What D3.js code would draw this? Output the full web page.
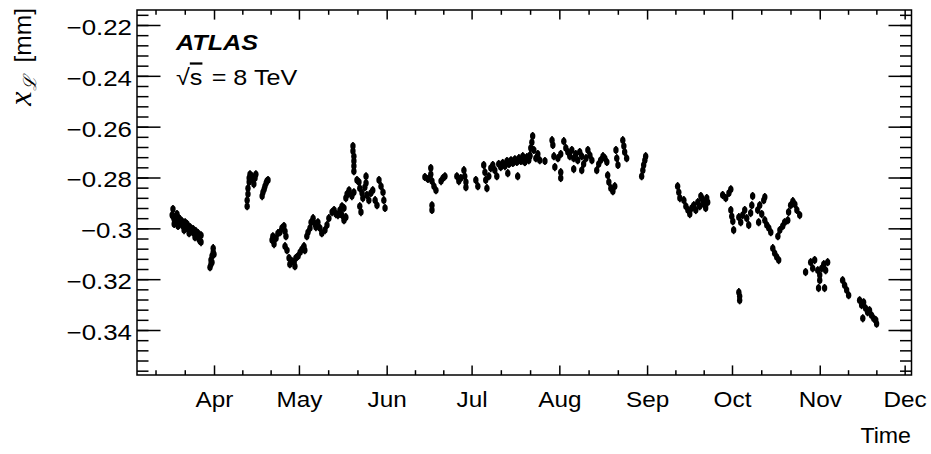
<!DOCTYPE html>
<html><head><meta charset="utf-8">
<script src="https://cdn.jsdelivr.net/npm/d3@7"></script>
<style>
body{margin:0;background:#fff}
svg{display:block}
text{font-family:"Liberation Sans",Arial,Helvetica,sans-serif;fill:#000}
</style>
</head><body>
<svg id="chart" width="931" height="454"></svg>
<script>
// ---- axis content ----
const monthLabels = ["Apr","May","Jun","Jul","Aug","Sep","Oct","Nov","Dec"];
const yTickValues = [-0.34,-0.32,-0.30,-0.28,-0.26,-0.24,-0.22];
const yTickLabels = ["\u22120.34","\u22120.32","\u22120.3","\u22120.28","\u22120.26","\u22120.24","\u22120.22"];
const yDomain = [-0.3577,-0.2141];
const dayDomain = [63.8,337.4];          // days since 2012-01-01
const errY = 0.0016;                      // vertical error bar half-length (mm)

// ---- data: [days since 2012-01-01, x_L (mm)] ----
const runMarch = [[76.5,-0.2924],[76.5,-0.2952],[76.9,-0.2964],[77.6,-0.2972],[77.9,-0.2944],[78.3,-0.2956],[78.6,-0.2976],[79.0,-0.2964],[79.4,-0.2983],[79.7,-0.2972],[80.1,-0.2991],[80.8,-0.2976],[81.1,-0.2995],[81.5,-0.2983],[81.8,-0.3003],[82.5,-0.2995],[82.9,-0.3011],[83.6,-0.3003],[83.9,-0.3019],[84.6,-0.3011],[85.0,-0.3031],[85.4,-0.3019],[85.7,-0.3043],[86.4,-0.3027],[86.1,-0.3050],
  [76.2,-0.2948],[76.9,-0.2983],[78.3,-0.2991],[80.4,-0.3007],[82.2,-0.3019],[84.3,-0.3035],[86.4,-0.3054],[77.6,-0.2952]];
const runApril = [[90.7,-0.3078],[90.7,-0.3094],[90.3,-0.3109],[89.9,-0.3125],[89.9,-0.3141],[89.6,-0.3153],[90.3,-0.3133],[91.0,-0.3102],
  [102.7,-0.2913],[102.7,-0.2889],[103.0,-0.2865],[103.0,-0.2842],[103.4,-0.2818],[103.4,-0.2802],[103.7,-0.2787],[104.4,-0.2795],[104.8,-0.2810],[105.1,-0.2826],[105.5,-0.2802],[105.8,-0.2787],
  [108.0,-0.2873],[108.3,-0.2858],[108.7,-0.2846],[109.0,-0.2834],[109.4,-0.2822],[109.7,-0.2814],[110.1,-0.2810]];
const runMay = [[111.5,-0.3046],[111.8,-0.3031],[112.2,-0.3062],[112.9,-0.3039],[113.6,-0.3019],[114.3,-0.3015],[115.0,-0.2999],[115.7,-0.2991],[116.1,-0.3011],[116.4,-0.3031],[116.1,-0.3070],[116.8,-0.3086],[117.5,-0.3117],[117.8,-0.3141],[118.5,-0.3129],[119.3,-0.3133],[119.6,-0.3149],[119.9,-0.3117],[120.7,-0.3109],[121.4,-0.3094],[122.1,-0.3082],[122.8,-0.3070],[123.1,-0.3086],
  [123.8,-0.3031],[124.2,-0.3015],[124.9,-0.2999],[125.3,-0.2976],[126.0,-0.2960],[126.7,-0.2983],[127.0,-0.2995],[127.7,-0.2976],[128.4,-0.2999],[129.1,-0.3019],[130.2,-0.3007],[130.9,-0.2987],[131.6,-0.2960],[132.7,-0.2936],[133.4,-0.2928],[134.1,-0.2944],[134.8,-0.2948],[135.5,-0.2936],[136.2,-0.2913],[136.9,-0.2920],[137.6,-0.2881],[138.3,-0.2865],[138.7,-0.2858],
  [135.5,-0.2928],[136.2,-0.2948],[136.9,-0.2968],[137.6,-0.2956],[138.0,-0.2865],[138.7,-0.2850],[139.7,-0.2873],[140.4,-0.2858],[140.1,-0.2676],[140.1,-0.2696],[140.4,-0.2716],[140.4,-0.2735],[140.4,-0.2755],[140.4,-0.2775],[141.5,-0.2810],[142.2,-0.2818],[142.5,-0.2842],[143.3,-0.2861],[143.6,-0.2881],[144.3,-0.2838],[145.0,-0.2869],[145.7,-0.2889],[146.4,-0.2861],[147.1,-0.2850],[147.9,-0.2889],[148.6,-0.2909],[149.3,-0.2810],[150.0,-0.2834],[150.7,-0.2858],[151.0,-0.2889],[151.4,-0.2920],[144.7,-0.2822],[142.5,-0.2913],[142.9,-0.2936],[144.7,-0.2795]];
const runJune = [[165.5,-0.2798],[166.6,-0.2806],[167.6,-0.2763],[167.6,-0.2787],[168.0,-0.2814],[168.7,-0.2834],[169.4,-0.2850],[168.0,-0.2909],[168.0,-0.2928],[171.2,-0.2814],[171.9,-0.2802],[172.6,-0.2795],
  [176.8,-0.2795],[177.5,-0.2814],[178.2,-0.2802],[179.3,-0.2771],[179.6,-0.2795],[180.0,-0.2818],[180.0,-0.2838]];
const runJuly = [[183.5,-0.2810],[184.2,-0.2834],[186.3,-0.2751],[186.7,-0.2779],[187.0,-0.2810],[187.4,-0.2842],[188.1,-0.2795],[188.8,-0.2763],[189.5,-0.2751],[190.2,-0.2771],[190.9,-0.2795],[191.6,-0.2747],[192.3,-0.2759],[193.0,-0.2743],[193.8,-0.2755],[194.5,-0.2735],[194.8,-0.2783],[195.2,-0.2747],[195.9,-0.2732],[196.6,-0.2743],[197.3,-0.2728],[198.0,-0.2739],[198.3,-0.2795],[198.7,-0.2724],[199.4,-0.2735],[200.1,-0.2724],[200.8,-0.2739],[201.5,-0.2720],[202.2,-0.2732],[202.6,-0.2716]];
const runAugust = [[199.4,-0.2732],[200.1,-0.2716],[200.8,-0.2739],[201.5,-0.2724],[202.6,-0.2712],[202.9,-0.2684],[203.3,-0.2661],[203.6,-0.2637],[204.0,-0.2692],[204.7,-0.2724],[205.4,-0.2708],[206.1,-0.2732],[207.9,-0.2735],[210.4,-0.2653],[210.7,-0.2672],[211.1,-0.2716],[212.5,-0.2724],[213.5,-0.2708],[213.5,-0.2779],[213.5,-0.2802],[211.4,-0.2759],[214.6,-0.2657],[215.3,-0.2684],[216.0,-0.2700],[216.7,-0.2716],[217.4,-0.2692],[218.1,-0.2724],[218.8,-0.2708],[219.5,-0.2732],[220.2,-0.2700],[220.9,-0.2716],[221.6,-0.2747],[222.4,-0.2724],[223.1,-0.2692],[223.8,-0.2712],[224.5,-0.2732],[218.1,-0.2767],[220.9,-0.2771],[226.2,-0.2771],[226.9,-0.2747],[227.6,-0.2732],[228.4,-0.2716],[229.1,-0.2724],[229.8,-0.2739],[230.1,-0.2791],[230.5,-0.2818],[231.2,-0.2842],[231.9,-0.2854],[232.6,-0.2834],[233.0,-0.2692],[233.3,-0.2724],[233.7,-0.2751],[235.4,-0.2653],[235.8,-0.2676],[236.1,-0.2700],[236.8,-0.2724],[242.1,-0.2795],[242.5,-0.2771],[242.8,-0.2751],[243.2,-0.2732],[243.5,-0.2716]];
const runSeptember = [[254.8,-0.2834],[255.2,-0.2858],[255.6,-0.2881],[257.0,-0.2889],[257.7,-0.2913],[258.4,-0.2928],[259.1,-0.2944],[259.8,-0.2920],[260.5,-0.2909],[261.2,-0.2928],[261.9,-0.2897],[262.6,-0.2913],[263.3,-0.2881],[264.0,-0.2905],[264.7,-0.2920],[265.4,-0.2897],[263.0,-0.2873],[263.7,-0.2889],[264.4,-0.2905],[265.1,-0.2881]];
const runOctober = [[270.7,-0.2869],[271.8,-0.2881],[272.9,-0.2861],[273.6,-0.2846],[273.6,-0.2928],[273.9,-0.2952],[274.3,-0.2972],[274.6,-0.3007],[276.4,-0.2956],[277.1,-0.2976],[277.8,-0.2948],[278.5,-0.2928],[279.2,-0.2960],[279.9,-0.2987],[280.6,-0.2940],[281.0,-0.2909],[281.3,-0.2873],[283.1,-0.2928],[283.8,-0.2909],[284.5,-0.2944],[285.2,-0.2889],[285.6,-0.2968],[286.3,-0.2987],[287.0,-0.2999],[287.7,-0.3015],[283.4,-0.2976],[285.6,-0.2877],[288.4,-0.3078],[289.1,-0.3098],[289.8,-0.3113],[290.5,-0.3125],[290.2,-0.3031],[290.9,-0.3007],[291.9,-0.2991],[292.6,-0.2976],[293.7,-0.2968],[294.0,-0.2936],[294.7,-0.2909],[295.5,-0.2893],[296.2,-0.2905],[296.9,-0.2928],[297.9,-0.2948],[276.4,-0.3251],[276.7,-0.3267],[276.7,-0.3283]];
const runNovember = [[300.0,-0.3172],[301.8,-0.3133],[302.5,-0.3157],[303.2,-0.3125],[304.3,-0.3165],[305.0,-0.3184],[305.7,-0.3157],[306.4,-0.3141],[307.1,-0.3165],[307.8,-0.3133],[305.0,-0.3204],[304.6,-0.3235],[306.7,-0.3235],[313.1,-0.3204],[313.8,-0.3224],[314.5,-0.3243],[315.2,-0.3263],[319.1,-0.3283],[319.8,-0.3302],[320.5,-0.3291],[321.2,-0.3314],[321.9,-0.3330],[322.6,-0.3322],[323.3,-0.3342],[324.1,-0.3355],[324.8,-0.3361],[325.1,-0.3375],[320.2,-0.3354]];

// ---- layout ----
const frame = {left:137, right:911.5, top:10, bottom:375};
const yearStart = new Date(2012,0,1);
const toDate = d => d3.timeHour.offset(yearStart, Math.round(d*24));

const svg = d3.select("#chart");
const x = d3.scaleTime().domain(dayDomain.map(toDate)).range([frame.left, frame.right]);
const y = d3.scaleLinear().domain(yDomain).range([frame.bottom, frame.top]);

const monthStarts = d3.timeMonth.range(new Date(2012,3,1), new Date(2012,11,2));
const allMonths = d3.timeMonth.range(new Date(2012,1,1), new Date(2013,0,2));
const xMinor = [];
for (let i=0;i<allMonths.length-1;i++){
  const a=+allMonths[i], b=+allMonths[i+1];
  [1,2].forEach(k=>xMinor.push(new Date(a+(b-a)*k/3)));
}
const xMinorIn = xMinor.filter(d=>x(d)>=frame.left && x(d)<=frame.right);
const yMinor = d3.range(-0.356,-0.2139,0.004).map(v=>+v.toFixed(3));

const fontSize = 22.5;
const sw = 1.5;

function widen(sel,k){
  sel.each(function(){
    const t=d3.select(this); const x0=+t.attr("x")||0;
    t.attr("transform",`translate(${x0},0) scale(${k},1) translate(${-x0},0)`);
  });
}
function styleAxis(g){
  g.select(".domain").remove();
  g.selectAll(".tick line").attr("stroke","#000").attr("stroke-width",sw);
}
// bottom
svg.append("g").attr("transform",`translate(0,${frame.bottom})`)
  .call(d3.axisBottom(x).tickValues(xMinorIn).tickSize(-4.8).tickFormat(""))
  .call(styleAxis);
svg.append("g").attr("transform",`translate(0,${frame.bottom})`)
  .call(d3.axisBottom(x).tickValues(monthStarts).tickSize(-9.6).tickPadding(16)
        .tickFormat((d,i)=>monthLabels[i]))
  .call(styleAxis)
  .call(g=>g.selectAll("text").attr("font-size",fontSize).attr("font-family","Liberation Sans, Arial, sans-serif").call(widen,1.08));
// top
svg.append("g").attr("transform",`translate(0,${frame.top})`)
  .call(d3.axisTop(x).tickValues(xMinorIn).tickSize(-4.8).tickFormat("")).call(styleAxis);
svg.append("g").attr("transform",`translate(0,${frame.top})`)
  .call(d3.axisTop(x).tickValues(monthStarts).tickSize(-9.6).tickFormat("")).call(styleAxis);
// left
svg.append("g").attr("transform",`translate(${frame.left},0)`)
  .call(d3.axisLeft(y).tickValues(yMinor).tickSize(-11.5).tickFormat("")).call(styleAxis);
svg.append("g").attr("transform",`translate(${frame.left},0)`)
  .call(d3.axisLeft(y).tickValues(yTickValues).tickSize(-23.5).tickPadding(5)
        .tickFormat((d,i)=>yTickLabels[i]))
  .call(styleAxis)
  .call(g=>g.selectAll("text").attr("font-size",fontSize).attr("dy","0.42em").attr("font-family","Liberation Sans, Arial, sans-serif").call(widen,1.15));
// right
svg.append("g").attr("transform",`translate(${frame.right},0)`)
  .call(d3.axisRight(y).tickValues(yMinor).tickSize(-11.5).tickFormat("")).call(styleAxis);
svg.append("g").attr("transform",`translate(${frame.right},0)`)
  .call(d3.axisRight(y).tickValues(yTickValues).tickSize(-23).tickFormat("")).call(styleAxis);

// frame
svg.append("rect").attr("x",frame.left).attr("y",frame.top)
  .attr("width",frame.right-frame.left).attr("height",frame.bottom-frame.top)
  .attr("fill","none").attr("stroke","#000").attr("stroke-width",sw);

// data
const allPoints = [].concat(runMarch, runApril, runMay, runJune, runJuly, runAugust, runSeptember, runOctober, runNovember);
const pts = svg.append("g");
pts.selectAll("line").data(allPoints).join("line")
  .attr("x1",d=>x(toDate(d[0]))).attr("x2",d=>x(toDate(d[0])))
  .attr("y1",d=>y(d[1]-errY)).attr("y2",d=>y(d[1]+errY))
  .attr("stroke","#000").attr("stroke-width",1.6);
pts.selectAll("ellipse").data(allPoints).join("ellipse")
  .attr("cx",d=>x(toDate(d[0]))).attr("cy",d=>y(d[1]))
  .attr("rx",2.7).attr("ry",3.5).attr("fill","#000");

// axis titles
svg.append("text").attr("x",911).attr("y",443).attr("text-anchor","end")
  .attr("font-size",fontSize).text("Time").call(widen,1.03);
const yt = svg.append("text").attr("transform","translate(31,8) rotate(-90)")
  .attr("text-anchor","end").attr("font-size",24.5);
yt.append("tspan").attr("font-family","Liberation Serif, serif").attr("font-style","italic").attr("font-size",32).text("x");
yt.append("tspan").attr("font-family","DejaVu Serif, serif").attr("font-style","italic").attr("font-size",18).attr("dy",5).text("\u2112");
yt.append("tspan").attr("dy",-5).attr("dx",14).text("[mm]");

// ATLAS label
svg.append("text").attr("x",176).attr("y",50).attr("font-size",22.5)
  .attr("font-weight","bold").attr("font-style","italic").text("ATLAS").call(widen,1.12);
const en = svg.append("text").attr("x",176).attr("y",85).attr("font-size",fontSize);
en.append("tspan").text("\u221A");
en.append("tspan").style("text-decoration","overline").text("s");
en.append("tspan").attr("dx",2).text(" = 8 TeV");
en.call(widen,1.12);
</script>
</body></html>
